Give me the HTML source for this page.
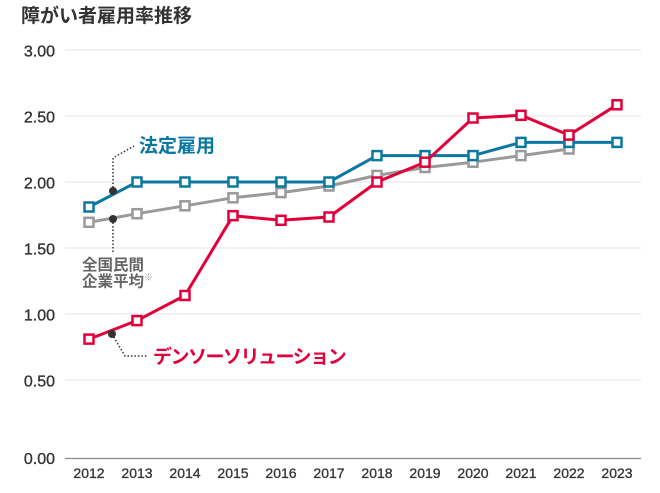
<!DOCTYPE html>
<html><head><meta charset="utf-8"><style>
html,body{margin:0;padding:0;background:#fff;}
svg{display:block;}
text{font-family:"Liberation Sans","Noto Sans CJK JP",sans-serif;}
.jp{font-family:"Noto Sans CJK JP","Liberation Sans",sans-serif;font-weight:bold;}
</style></head><body>
<svg width="660" height="493" viewBox="0 0 660 493" xmlns="http://www.w3.org/2000/svg">
<text x="21" y="22" class="jp" font-size="19" fill="#333">障がい者雇用率推移</text>
<g stroke="#e6e6e6" stroke-width="1">
<line x1="65" y1="50" x2="641" y2="50"/>
<line x1="65" y1="116" x2="641" y2="116"/>
<line x1="65" y1="182" x2="641" y2="182"/>
<line x1="65" y1="248" x2="641" y2="248"/>
<line x1="65" y1="314" x2="641" y2="314"/>
<line x1="65" y1="380" x2="641" y2="380"/>
</g>
<line x1="65" y1="458.5" x2="641" y2="458.5" stroke="#8a8a8a" stroke-width="1.2"/>
<g font-size="16" fill="#333" stroke="#333" stroke-width="0.35" text-anchor="end">
<text x="55" y="56.5">3.00</text>
<text x="55" y="122.5">2.50</text>
<text x="55" y="188.5">2.00</text>
<text x="55" y="254.5">1.50</text>
<text x="55" y="320.5">1.00</text>
<text x="55" y="386.5">0.50</text>
<text x="55" y="464">0.00</text>
</g>
<g font-size="14" fill="#333" stroke="#333" stroke-width="0.3" text-anchor="middle">
<text x="89" y="478">2012</text><text x="137" y="478">2013</text><text x="185" y="478">2014</text><text x="233" y="478">2015</text><text x="281" y="478">2016</text><text x="329" y="478">2017</text><text x="377" y="478">2018</text><text x="425" y="478">2019</text><text x="473" y="478">2020</text><text x="521" y="478">2021</text><text x="569" y="478">2022</text><text x="617" y="478">2023</text>
</g>
<!-- leader lines -->
<g stroke="#333" stroke-width="1.5" stroke-dasharray="1.5 2" fill="none">
<polyline points="113,191 113,158 134,146"/>
<polyline points="113,219 113,253"/>
<polyline points="112,334 125,356 148,356"/>
</g>
<!-- gray series -->
<polyline fill="none" stroke="#9a9a9a" stroke-width="3" stroke-linejoin="round" points="89,222.3 137,213.7 185,205.8 233,197.8 281,192.6 329,186 377,175.4 425,167.5 473,162.2 521,155.6 569,149"/>
<g fill="#fff" stroke="#9a9a9a" stroke-width="2.5">
<rect x="84.5" y="217.8" width="9" height="9"/><rect x="132.5" y="209.2" width="9" height="9"/><rect x="180.5" y="201.3" width="9" height="9"/><rect x="228.5" y="193.3" width="9" height="9"/><rect x="276.5" y="188.1" width="9" height="9"/><rect x="324.5" y="181.5" width="9" height="9"/><rect x="372.5" y="170.9" width="9" height="9"/><rect x="420.5" y="163" width="9" height="9"/><rect x="468.5" y="157.7" width="9" height="9"/><rect x="516.5" y="151.1" width="9" height="9"/><rect x="564.5" y="144.5" width="9" height="9"/>
</g>
<!-- blue series -->
<polyline fill="none" stroke="#0b78a3" stroke-width="3" stroke-linejoin="round" points="89,207 137,182 185,182 233,182 281,182 329,182 377,155.6 425,155.6 473,155.6 521,142.4 569,142.4 617,142.4"/>
<g fill="#fff" stroke="#0b78a3" stroke-width="2.5">
<rect x="84.5" y="202.5" width="9" height="9"/><rect x="132.5" y="177.5" width="9" height="9"/><rect x="180.5" y="177.5" width="9" height="9"/><rect x="228.5" y="177.5" width="9" height="9"/><rect x="276.5" y="177.5" width="9" height="9"/><rect x="324.5" y="177.5" width="9" height="9"/><rect x="372.5" y="151.1" width="9" height="9"/><rect x="420.5" y="151.1" width="9" height="9"/><rect x="468.5" y="151.1" width="9" height="9"/><rect x="516.5" y="137.9" width="9" height="9"/><rect x="564.5" y="137.9" width="9" height="9"/><rect x="612.5" y="137.9" width="9" height="9"/>
</g>
<!-- red series -->
<polyline fill="none" stroke="#e2003a" stroke-width="3" stroke-linejoin="round" points="89,339.1 137,320.6 185,295.5 233,215.7 281,220.3 329,217 377,182 425,162.2 473,118 521,115.3 569,135.1 617,104.8"/>
<g fill="#fff" stroke="#e2003a" stroke-width="2.5">
<rect x="84.5" y="334.6" width="9" height="9"/><rect x="132.5" y="316.1" width="9" height="9"/><rect x="180.5" y="291" width="9" height="9"/><rect x="228.5" y="211.2" width="9" height="9"/><rect x="276.5" y="215.8" width="9" height="9"/><rect x="324.5" y="212.5" width="9" height="9"/><rect x="372.5" y="177.5" width="9" height="9"/><rect x="420.5" y="157.7" width="9" height="9"/><rect x="468.5" y="113.5" width="9" height="9"/><rect x="516.5" y="110.8" width="9" height="9"/><rect x="564.5" y="130.6" width="9" height="9"/><rect x="612.5" y="100.3" width="9" height="9"/>
</g>
<!-- dots -->
<g fill="#333">
<circle cx="113" cy="191" r="4"/>
<circle cx="113" cy="219" r="4"/>
<circle cx="112" cy="334" r="4"/>
</g>
<!-- labels -->
<text x="139" y="152" class="jp" font-size="19" fill="#0b78a3">法定雇用</text>
<text x="153" y="363" class="jp" font-size="19" fill="#e2003a" letter-spacing="-1.5">デンソーソリューション</text>
<text x="82" y="270" class="jp" font-size="15.5" fill="#666">全国民間</text>
<text x="82" y="286.5" class="jp" font-size="15.5" fill="#666">企業平均<tspan font-size="9" dy="-6" fill="#999" font-weight="normal">※</tspan></text>
</svg>
</body></html>
